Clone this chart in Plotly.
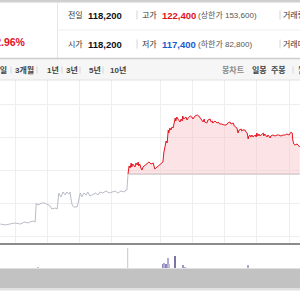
import plotly.graph_objects as go

# ---------------- data ----------------
SESSION_MIN = 390          # 09:00 - 15:30
prev_close = 118200

# previous session (gray): minutes since 09:00, price
prev_min = [152, 161, 170, 179, 189, 198, 204, 207, 213, 217, 219, 222, 226, 230, 235, 239,
            245, 248, 254, 258, 260, 261, 265, 269, 273, 276, 280, 282, 284, 286, 289, 295,
            297, 299, 301, 304, 308, 312, 315, 319, 325, 330, 334, 338, 343, 349, 355, 360,
            366, 371, 377, 383, 386, 388]
prev_price = [115200, 115140, 115200, 115260, 115200, 115320, 115260, 115320, 115380, 115320,
              116460, 116340, 116400, 116460, 116460, 116400, 116280, 116100, 116160, 116100,
              116640, 117060, 116820, 117120, 116940, 117120, 117000, 117120, 116640, 116340,
              116220, 116220, 116460, 116880, 117060, 116820, 117060, 116940, 117120, 116880,
              117000, 117060, 116940, 117120, 117060, 117180, 117060, 117120, 117180, 117060,
              117180, 117120, 117240, 117240]

# today (red): minutes since 09:00, price
today_min = [0, 2, 4, 6, 7, 9, 13, 15, 17, 19, 20, 22, 24, 26, 28, 32, 35, 39, 43, 47, 50, 54,
             58, 61, 65, 67, 69, 71, 73, 75, 76, 78, 80, 82, 84, 86, 88, 89, 91, 93, 97, 99,
             101, 102, 104, 108, 110, 112, 116, 119, 121, 125, 129, 132, 134, 136, 140, 142,
             143, 147, 149, 153, 155, 157, 158, 162, 166, 168, 171, 175, 179, 183, 186, 190,
             192, 196, 198, 201, 203, 205, 207, 211, 212, 214, 218, 220, 222, 224, 225, 227,
             229, 231, 233, 237, 239, 240, 242, 244, 246, 250, 252, 253, 255, 259, 261, 265,
             266, 270, 274, 278, 281, 285, 289, 293, 296, 300, 302, 304, 306, 307, 309, 311,
             315, 319, 320]
today_price = [118200, 118680, 118560, 118860, 118620, 118800, 118620, 118860, 118740, 118920,
               118680, 118800, 118560, 118440, 118620, 118740, 118860, 118920, 118800, 118860,
               118500, 118620, 118740, 118800, 118920, 119520, 119940, 120180, 120060, 120840,
               120660, 120960, 120840, 121020, 120960, 121320, 121560, 121380, 121620, 121500,
               121320, 121500, 121380, 121680, 121500, 121620, 121440, 121560, 121680, 121620,
               121500, 121680, 121740, 121680, 121620, 121500, 121320, 121500, 121320, 121260,
               121440, 121500, 121320, 121380, 121260, 121380, 121260, 121320, 121200, 121200,
               121140, 121140, 121260, 121320, 121200, 121260, 121080, 121020, 120960, 120660,
               120840, 120900, 120780, 120840, 120840, 120720, 120660, 120300, 120480, 120540,
               120420, 120540, 120420, 120540, 120420, 120660, 120480, 120600, 120480, 120600,
               120660, 120480, 120600, 120420, 120540, 120360, 120480, 120540, 120480, 120540,
               120540, 120480, 120540, 120540, 120600, 120540, 120660, 120720, 120660, 120240,
               120000, 119940, 120000, 119880, 119820]

# volume
vol_min = [65, 67, 69, 71, 75, 76, 88, 102, 106, 224]
vol_qty = [4000, 5000, 3000, 4000, 10000, 4000, 12000, 3000, 1000, 3000]
vol_col = ['#8f86b8', '#b3a9d8', '#b3a9d8', '#8f86b8', '#b3a9d8', '#c3bbe0',
           '#7d74a6', '#9f96c6', '#b3a9d8', '#b3a9d8']
prev_vol_min = [222]
prev_vol_qty = [1000]

# header texts
row1 = [("전일", "118,200", "#111"), ("고가", "122,400", "#e0111c")]
row1_limit = "(상한가 153,600)"
row2 = [("시가", "118,200", "#111"), ("저가", "117,400", "#1a5ccf")]
row2_limit = "(하한가 82,800)"
change_pct = "+2.96%"
period_tabs = ["3개월", "1년", "3년", "5년", "10년"]
chart_tabs = ["봉차트", "일봉", "주봉", "월봉"]

# ---------------- figure ----------------
FONT = "Liberation Sans, Noto Sans CJK KR, sans-serif"
W = H = 300


def px(x):
    return x / W


def py(y):
    return 1 - y / H


prev_x = [m - SESSION_MIN for m in prev_min]

fig = go.Figure()

# gray previous session line (joins into today's open)
fig.add_trace(go.Scatter(x=prev_x + [today_min[0]], y=prev_price + [today_price[0]],
                         mode="lines", line=dict(color="#b9bdc9", width=1),
                         hoverinfo="skip", showlegend=False))
# baseline (previous close)
fig.add_trace(go.Scatter(x=[today_min[0], today_min[-1]], y=[prev_close, prev_close],
                         mode="lines", line=dict(color="#d9d9d9", width=2),
                         hoverinfo="skip", showlegend=False))
# red today line with fill to the baseline
fig.add_trace(go.Scatter(x=today_min, y=[prev_close] * len(today_min), mode="lines",
                         line=dict(width=0, color="rgba(0,0,0,0)"),
                         hoverinfo="skip", showlegend=False))
fig.add_trace(go.Scatter(x=today_min, y=today_price, mode="lines", fill="tonexty",
                         fillcolor="rgba(248,190,196,0.42)",
                         line=dict(color="#e4151f", width=1),
                         hoverinfo="skip", showlegend=False))

# volume
fig.add_trace(go.Bar(x=vol_min, y=vol_qty, width=1.5, marker=dict(color=vol_col, line_width=0),
                     xaxis="x2", yaxis="y2", hoverinfo="skip", showlegend=False))
fig.add_trace(go.Bar(x=[m - SESSION_MIN for m in prev_vol_min], y=prev_vol_qty, width=1.5,
                     marker=dict(color="#c8c8d0", line_width=0),
                     xaxis="x2", yaxis="y2", hoverinfo="skip", showlegend=False))

xr = [-238.5, 320.5]
fig.update_layout(
    width=W, height=H, margin=dict(l=0, r=0, t=0, b=0),
    paper_bgcolor="white", plot_bgcolor="white",
    xaxis=dict(domain=[0, 1], range=xr, showticklabels=False, zeroline=False,
               tickvals=[-210, -150, -90, -30, 60, 120, 180, 240, 300],
               showgrid=True, gridcolor="#eeeeee", gridwidth=1,
               showline=True, linecolor="#8c8c8c", linewidth=2, ticks=""),
    yaxis=dict(domain=[py(243), py(80)], range=[114060, 123840], showticklabels=False,
               zeroline=False, tickvals=[114480, 116460, 118440, 120420, 122400],
               showgrid=True, gridcolor="#eeeeee", gridwidth=1),
    xaxis2=dict(domain=[0, 1], range=xr, anchor="y2", showticklabels=False,
                showgrid=False, zeroline=False),
    yaxis2=dict(domain=[py(268), py(244)], range=[0, 24000], showticklabels=False,
                showgrid=False, zeroline=False),
    bargap=0,
    showlegend=False,
)

shapes = []


def rect(x0, y0, x1, y1, color):
    shapes.append(dict(type="rect", xref="paper", yref="paper", x0=px(x0), x1=px(x1),
                       y0=py(y1), y1=py(y0), fillcolor=color, line_width=0, layer="below"))


def line(x0, y0, x1, y1, color, w=1):
    shapes.append(dict(type="line", xref="paper", yref="paper", x0=px(x0), x1=px(x1),
                       y0=py(y0), y1=py(y1), line=dict(color=color, width=w)))


# header
rect(0, 0, 300, 2.5, "#cfcfcf")
line(57.5, 2.5, 57.5, 58, "#e6e6e6")
line(57.5, 30, 300, 30, "#efefef")
for yy in (15, 44):
    line(137, yy - 4.5, 137, yy + 4.5, "#d4d4d4")
    line(280, yy - 4.5, 280, yy + 4.5, "#d4d4d4")
# tab bar
rect(0, 58, 300, 80, "#f6f6f6")
line(0, 58.5, 300, 58.5, "#cdcdcd", 1.5)
line(0, 80, 300, 80, "#e2e2e2")
for xx in (11, 37, 62, 80, 103, 265, 293):
    line(xx, 66.5, xx, 73.5, "#d6d6d6")
# volume day divider
shapes.append(dict(type="line", xref="x2", yref="paper", x0=-0.5, x1=-0.5,
                   y0=py(268), y1=py(248), line=dict(color="#c6c6c6", width=1)))
# navigator band
rect(0, 268.5, 300, 288.5, "#c2c2c2")
rect(0, 288.5, 300, 290.5, "#e1e1e1")

fig.update_layout(shapes=shapes)

ann = []


def text(s, x, y, color="#333", size=8, bold=False, anchor="left"):
    ann.append(dict(text=f"<b>{s}</b>" if bold else s, x=px(x), y=py(y), xref="paper",
                    yref="paper", xanchor=anchor, yanchor="middle", showarrow=False,
                    font=dict(family=FONT, size=size, color=color)))


for (lab, val, col), xl, xv in zip(row1, (66, 140), (86, 160)):
    text(lab, xl, 15)
    text(val, xv, 15, col, 9.5, True)
text(row1_limit, 196, 15, "#555")
text("거래량", 281, 15)
for (lab, val, col), xl, xv in zip(row2, (66, 140), (86, 160)):
    text(lab, xl, 44)
    text(val, xv, 44, col, 9.5, True)
text(row2_limit, 196, 44, "#555")
text("거래대금", 281, 44)
text(change_pct, 28, 42, "#e0111c", 10.5, True, "right")

text("1주일", 9, 70, "#444", 8, True, "right")
for s, xx in zip(period_tabs, (13, 45, 64, 87, 108)):
    text(s, xx, 70, "#444", 8, True)
for s, xx, col in zip(chart_tabs, (220, 250, 269, 296), ("#8a8a8a", "#444", "#444", "#444")):
    text(s, xx, 70, col, 8, True)

fig.update_layout(annotations=ann)

fig.write_html("out.html")
